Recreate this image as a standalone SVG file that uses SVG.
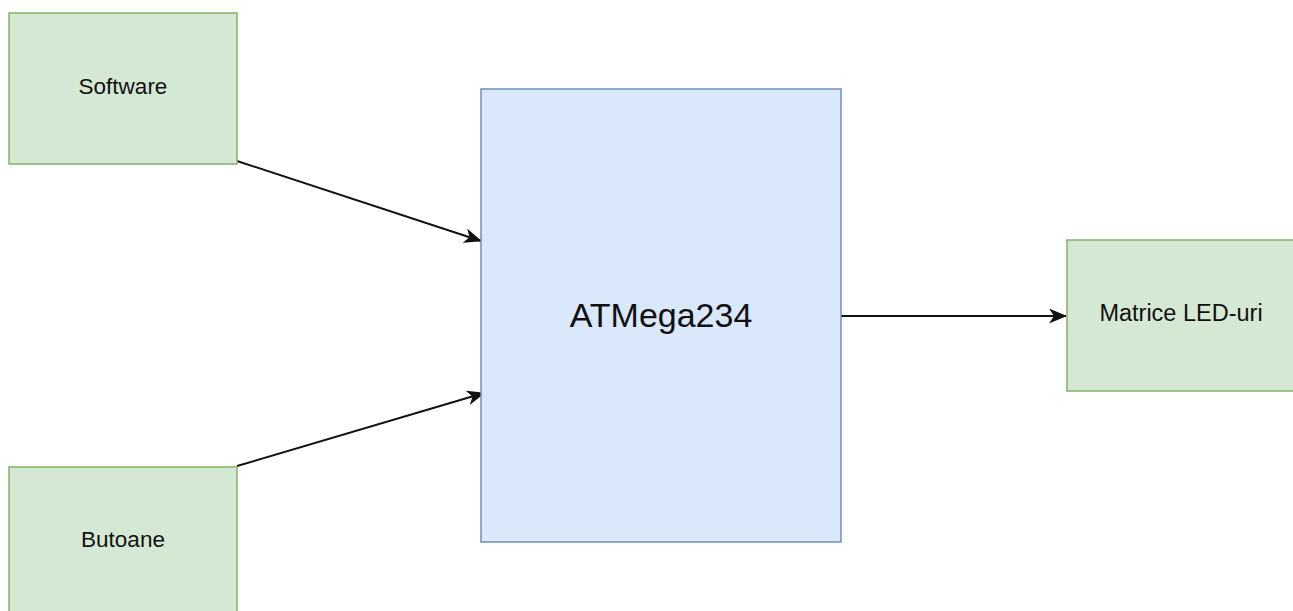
<svg xmlns="http://www.w3.org/2000/svg" width="1293" height="611" viewBox="0 0 1293 611">
<style>
.g{fill:#d5e8d4;stroke:#82b366;stroke-width:1.5}
.b{fill:#dae8fc;stroke:#6c8ebf;stroke-width:1.5}
.t{font-family:"Liberation Sans",Arial,sans-serif;font-size:22.5px;fill:#111;text-anchor:middle;dominant-baseline:central}
.c{stroke:#111;stroke-width:1.9;fill:none;marker-end:url(#ah)}
</style>
<defs>
<marker id="ah" markerWidth="18" markerHeight="15" refX="17" refY="7.5" orient="auto" markerUnits="userSpaceOnUse">
<path d="M0,0 L18,7.5 L0,15 L5,7.5 Z" fill="#111"/>
</marker>
</defs>
<rect width="1293" height="611" fill="#fff"/>
<g id="connectors">
<line class="c" x1="237" y1="161" x2="481" y2="241"/>
<line class="c" x1="237" y1="466" x2="484" y2="393"/>
<line class="c" x1="841" y1="316" x2="1066" y2="316"/>
</g>
<g id="software">
<rect class="g" x="9" y="13" width="228" height="151"/>
<text class="t" x="123" y="86">Software</text>
</g>
<g id="butoane">
<rect class="g" x="9" y="467" width="228" height="151"/>
<text class="t" x="123" y="539">Butoane</text>
</g>
<g id="atmega">
<rect class="b" x="481" y="89" width="360" height="453"/>
<text class="t" x="661" y="315" style="font-size:34px">ATMega234</text>
</g>
<g id="matrice">
<rect class="g" x="1067" y="240" width="228" height="151"/>
<text class="t" x="1181" y="313" style="font-size:23.5px">Matrice LED-uri</text>
</g>
</svg>
